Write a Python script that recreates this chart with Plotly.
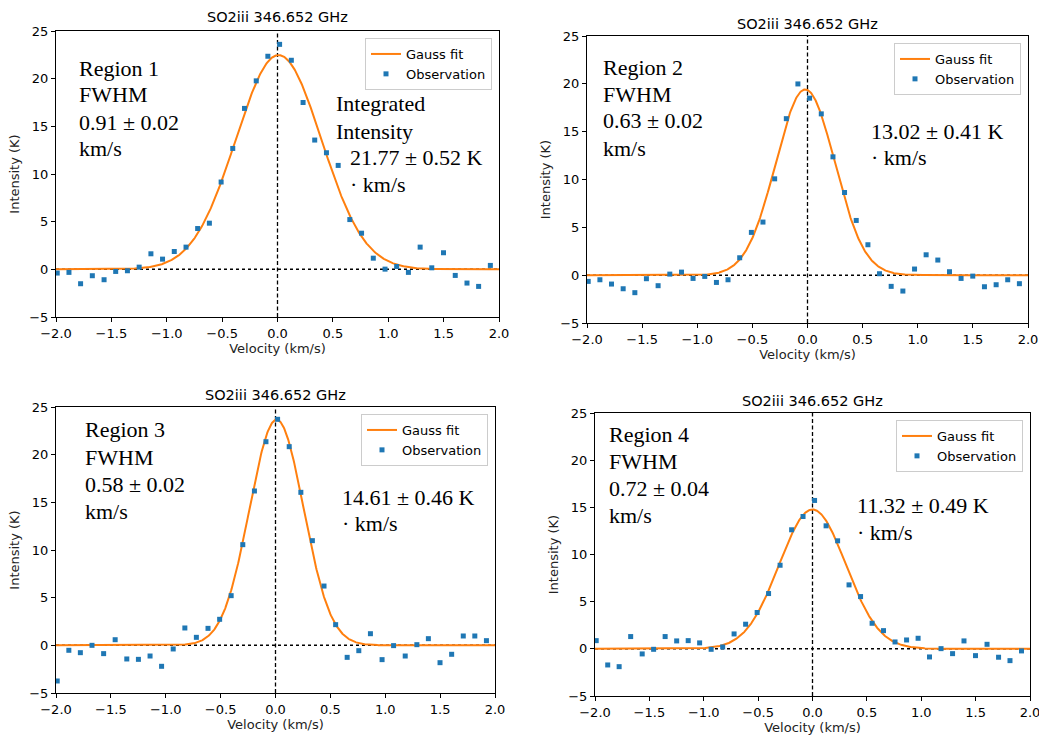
import numpy as np
import plotly.graph_objects as go

W, H = 1039, 738

# Channel velocities (km/s), shared by all four spectra
velocity = [-1.989, -1.883, -1.778, -1.672, -1.566, -1.461, -1.355, -1.249,
            -1.143, -1.038, -0.932, -0.826, -0.721, -0.615, -0.509, -0.404,
            -0.298, -0.192, -0.087, 0.019, 0.125, 0.231, 0.336, 0.442,
            0.548, 0.653, 0.759, 0.865, 0.971, 1.076, 1.182, 1.288,
            1.393, 1.499, 1.605, 1.711, 1.816, 1.922]

# Observed intensities (K)
obs_region1 = [-0.39, -0.32, -1.51, -0.67, -1.09, -0.22, -0.15, 0.23,
               1.63, 1.07, 1.87, 2.33, 4.28, 4.84, 9.16, 12.68,
               16.88, 19.77, 22.35, 23.60, 21.93, 17.50, 13.56, 12.23,
               10.90, 5.22, 3.79, 1.17, 0.02, 0.30, -0.32, 2.33,
               0.16, 1.74, -0.64, -1.44, -1.79, 0.41]
obs_region2 = [-0.65, -0.48, -0.93, -1.42, -1.83, -0.37, -1.10, 0.11,
               0.32, -0.34, -0.13, -0.76, -0.48, 1.82, 4.47, 5.55,
               10.07, 16.36, 19.99, 18.50, 16.86, 12.37, 8.64, 5.72,
               3.18, 0.15, -1.17, -1.66, 0.64, 2.13, 1.58, 0.36,
               -0.34, -0.10, -1.21, -1.00, -0.48, -0.89]
obs_region3 = [-3.74, -0.52, -0.77, 0.00, -0.87, 0.59, -1.43, -1.47,
               -1.12, -2.20, -0.38, 1.82, 0.84, 1.78, 2.73, 5.21,
               10.56, 16.19, 21.36, 23.71, 20.84, 16.05, 10.98, 6.22,
               2.17, -1.26, -0.56, 1.22, -1.50, -0.03, -1.12, 0.07,
               0.70, -1.82, -0.94, 0.98, 0.98, 0.49]
obs_region4 = [0.87, -1.71, -1.89, 1.30, -0.54, -0.05, 1.30, 0.84,
               0.87, 0.63, -0.05, 0.20, 1.58, 2.61, 3.85, 5.86,
               8.86, 12.62, 14.03, 15.73, 13.04, 11.45, 6.78, 5.54,
               2.71, 1.93, 0.73, 0.94, 1.12, -0.86, 0.02, -0.51,
               0.84, -0.72, 0.48, -0.89, -1.25, -0.22]
observations = [obs_region1, obs_region2, obs_region3, obs_region4]

# Gaussian fit results
region_names = ["Region 1", "Region 2", "Region 3", "Region 4"]
fwhm = [0.91, 0.63, 0.58, 0.72]
fwhm_err = [0.02, 0.02, 0.02, 0.04]
integrated = [21.77, 13.02, 14.61, 11.32]
integrated_err = [0.52, 0.41, 0.46, 0.49]
fit_center = [0.01, -0.02, 0.01, 0.0]

title_text = "SO2iii 346.652 GHz"
BLUE = "#1f77b4"
ORANGE = "#ff7f0e"
SANS = "DejaVu Sans"


def fx(p):
    return p / W


def fy(p):
    return 1 - p / H


# Plot-area boxes in pixels: (left, right, top, bottom)
boxes = [(56, 499, 31, 317), (587, 1028, 36, 323),
         (56, 495, 407, 693), (595, 1030, 413, 696)]
title_y = [17, 24, 395, 401]
legend_corner = [(492, 38), (1021, 43), (488, 414), (1023, 420)]
# Text anchors: left block (x, first-line y), right block (x, first-line y)
left_text = [(77, 68), (601, 67), (83, 430), (607, 434)]
right_text = [(348, 158), (869, 131), (340, 497), (855, 506)]
line_gap = 27

fig = go.Figure()
v_fine = np.linspace(-2, 2, 801)
annotations = []
shapes = []
layout = {}

for k in range(4):
    n = "" if k == 0 else str(k + 1)
    xa, ya = "x" + n, "y" + n
    lg = "legend" + n
    sigma = fwhm[k] / (2 * np.sqrt(2 * np.log(2)))
    amp = integrated[k] / (sigma * np.sqrt(2 * np.pi))
    fit = amp * np.exp(-0.5 * ((v_fine - fit_center[k]) / sigma) ** 2)

    fig.add_trace(go.Scatter(x=v_fine, y=fit, mode="lines", name="Gauss fit",
                             line=dict(color=ORANGE, width=2),
                             xaxis=xa, yaxis=ya, legend=lg))
    fig.add_trace(go.Scatter(x=velocity, y=observations[k], mode="markers",
                             name="Observation",
                             marker=dict(symbol="square", size=5, color=BLUE,
                                         line=dict(width=0)),
                             xaxis=xa, yaxis=ya, legend=lg))

    l, r, t, b = boxes[k]
    common = dict(showline=True, mirror=True, linecolor="black", linewidth=1,
                  ticks="outside", ticklen=4, tickcolor="black",
                  showgrid=False, zeroline=False, automargin=False,
                  ticklabeloverflow="allow",
                  tickfont=dict(family=SANS, size=13, color="black"))
    layout["xaxis" + n] = dict(
        domain=[fx(l), fx(r)], anchor=ya, range=[-2, 2], tick0=-2, dtick=0.5,
        tickformat=".1f",
        title=dict(text="Velocity (km/s)", standoff=3,
                   font=dict(family=SANS, size=13, color="#222")),
        **common)
    layout["yaxis" + n] = dict(
        domain=[fy(b), fy(t)], anchor=xa, range=[-5, 25], tick0=-5, dtick=5,
        title=dict(text="Intensity (K)", standoff=6,
                   font=dict(family=SANS, size=13, color="#222")),
        **common)

    lx, ly = legend_corner[k]
    layout[lg] = dict(x=fx(lx), y=fy(ly), xanchor="right", yanchor="top",
                      bgcolor="white", bordercolor="#cccccc", borderwidth=1,
                      font=dict(family=SANS, size=13, color="black"),
                      tracegroupgap=0)

    # zero-intensity and zero-velocity reference lines
    shapes.append(dict(type="line", xref=xa, yref=ya, x0=-2, x1=2, y0=0, y1=0,
                       line=dict(color="black", width=1.5, dash="dot"),
                       layer="below"))
    shapes.append(dict(type="line", xref=xa, yref=ya, x0=0, x1=0, y0=-5, y1=25,
                       line=dict(color="black", width=1.3, dash="4px,2.5px"),
                       layer="below"))

    annotations.append(dict(text=title_text, x=fx((l + r) / 2), y=fy(title_y[k]),
                            xref="paper", yref="paper", showarrow=False,
                            xanchor="center", yanchor="middle",
                            font=dict(family=SANS, size=14.5, color="black")))

    serif = dict(family="Liberation Serif", size=22, color="black")
    tx, ty = left_text[k]
    lines = [region_names[k], "FWHM",
             f"{fwhm[k]:.2f} ± {fwhm_err[k]:.2f}", "km/s"]
    for i, s in enumerate(lines):
        annotations.append(dict(text=s, x=fx(tx), y=fy(ty + i * line_gap),
                                xref="paper", yref="paper", showarrow=False,
                                xanchor="left", yanchor="middle", font=serif))
    if k == 0:
        for i, s in enumerate(["Integrated", "Intensity"]):
            annotations.append(dict(text=s, x=fx(334), y=fy(103 + i * 28),
                                    xref="paper", yref="paper", showarrow=False,
                                    xanchor="left", yanchor="middle", font=serif))
    rx, ry = right_text[k]
    rlines = [f"{integrated[k]:.2f} ± {integrated_err[k]:.2f} K", "· km/s"]
    for i, s in enumerate(rlines):
        annotations.append(dict(text=s, x=fx(rx), y=fy(ry + i * 26),
                                xref="paper", yref="paper", showarrow=False,
                                xanchor="left", yanchor="middle", font=serif))

fig.update_layout(
    width=W, height=H, margin=dict(l=0, r=0, t=0, b=0),
    paper_bgcolor="white", plot_bgcolor="white",
    annotations=annotations, shapes=shapes, **layout)

fig.write_html("out.html")
